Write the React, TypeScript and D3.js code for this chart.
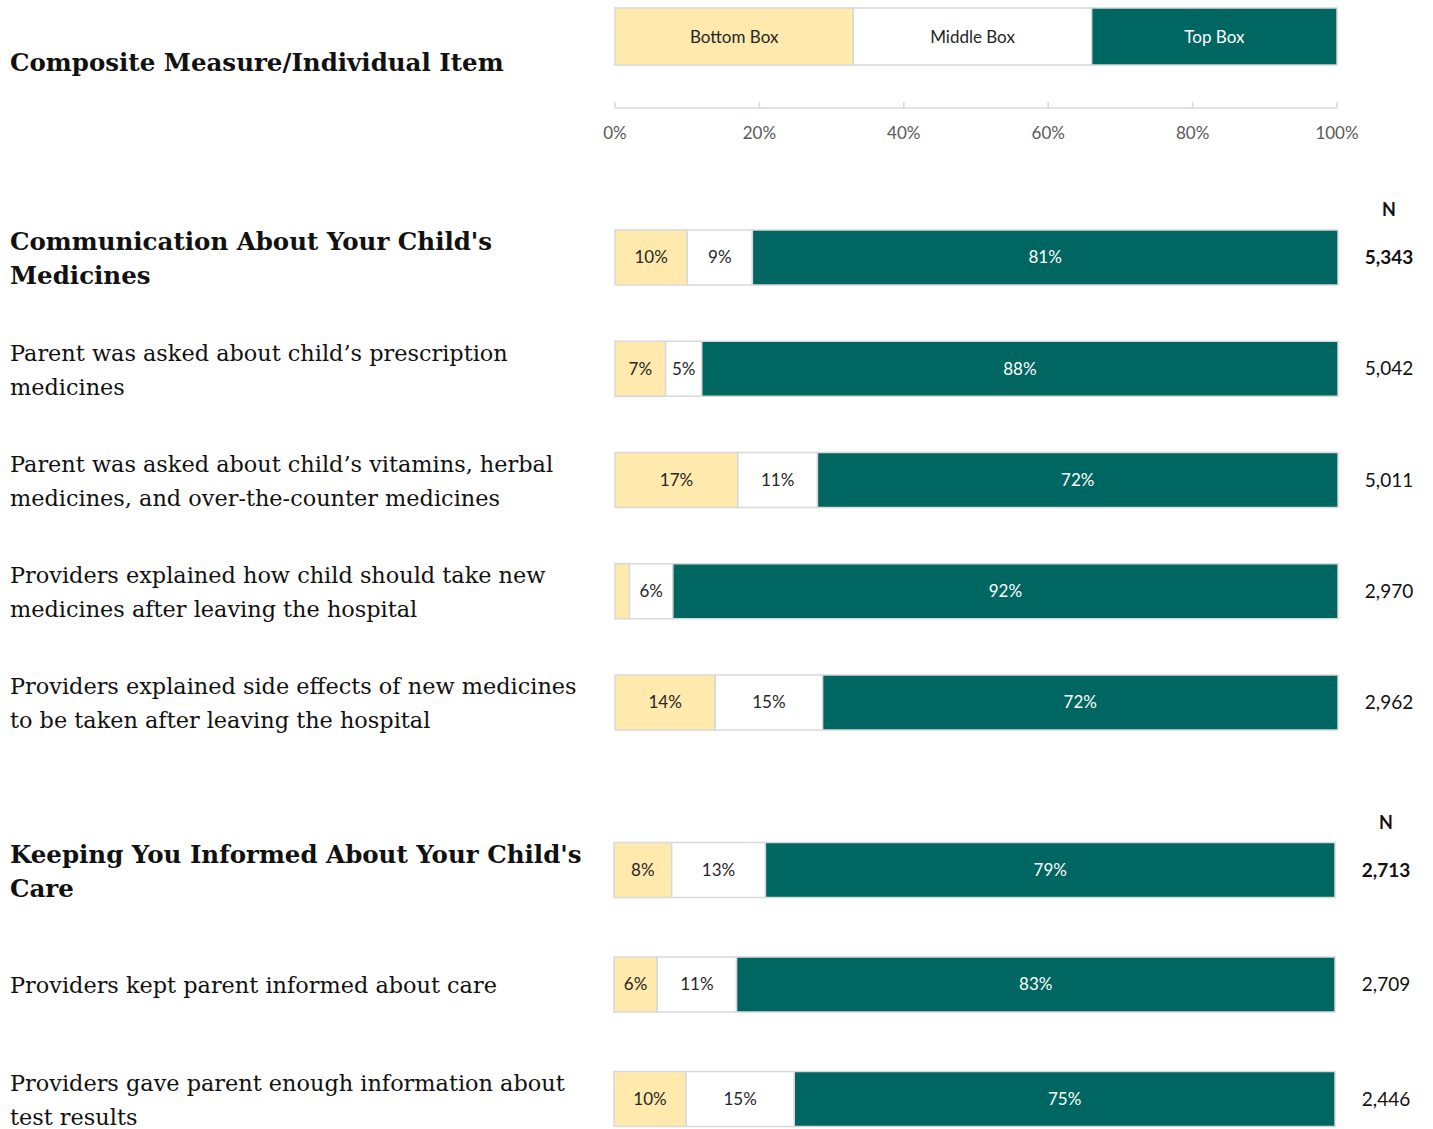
import React from 'react';
import * as d3 from 'd3';

// rows, top to bottom
const labels = [
  ["Communication About Your Child's", 'Medicines'],
  ['Parent was asked about child\u2019s prescription', 'medicines'],
  ['Parent was asked about child\u2019s vitamins, herbal', 'medicines, and over-the-counter medicines'],
  ['Providers explained how child should take new', 'medicines after leaving the hospital'],
  ['Providers explained side effects of new medicines', 'to be taken after leaving the hospital'],
  ["Keeping You Informed About Your Child's", 'Care'],
  ['Providers kept parent informed about care'],
  ['Providers gave parent enough information about', 'test results'],
];
const isComposite = [true, false, false, false, false, true, false, false];
const group = [0, 0, 0, 0, 0, 1, 1, 1];
const bottomBox = [10, 7, 17, 2, 14, 8, 6, 10];
const middleBox = [9, 5, 11, 6, 15, 13, 11, 15];
const topBox = [81, 88, 72, 92, 72, 79, 83, 75];
const nValues = ['5,343', '5,042', '5,011', '2,970', '2,962', '2,713', '2,709', '2,446'];
const seriesNames = ['Bottom Box', 'Middle Box', 'Top Box'];
const ticks = [0, 0.2, 0.4, 0.6, 0.8, 1];

const colors = ['#ffe9ad', '#ffffff', '#006661'];
const textColors = ['#262626', '#262626', '#ffffff'];
const serif = '"DejaVu Serif", Georgia, serif';
const sans = 'Lato, "Open Sans", sans-serif';

const W = 1433;
const H = 1129;

export default function App() {
  const rows = bottomBox.map((b, i) => ({ i, b, m: middleBox[i], t: topBox[i] }));
  const stacked = d3.stack<any>().keys(['b', 'm', 't']).offset(d3.stackOffsetExpand)(rows);

  // two groups, each with its own slight offsets
  const xScales = [
    d3.scaleLinear().domain([0, 1]).range([615, 1338]),
    d3.scaleLinear().domain([0, 1]).range([614, 1335]),
  ];
  const xAxis = d3.scaleLinear().domain([0, 1]).range([615, 1337]);
  const legendX = d3.scaleBand().domain(seriesNames).range([615, 1330]);

  const y0 = d3.scalePoint().domain(d3.range(5).map(String)).range([257.5, 702.5]);
  const y1 = d3.scalePoint().domain(d3.range(5, 8).map(String)).range([870, 1099]);
  const yCenter = (i: number) => (group[i] === 0 ? y0(String(i)) : y1(String(i))) as number;
  const barH = 55;
  const nX = [1389, 1386];

  return (
    <svg width={W} height={H} style={{ position: 'absolute', left: 0, top: 0, background: '#fff' }}>
      <text x={10} y={62} dy="0.35em" fontFamily={serif} fontWeight="bold" fontSize={24.5} fill="#111">
        Composite Measure/Individual Item
      </text>

      {/* legend */}
      {seriesNames.map((s, k) => {
        const lx = legendX(s) as number;
        const lw = k === 2 ? 1337 - lx : legendX.bandwidth();
        return (
          <g key={s}>
            <rect x={lx} y={8} width={lw} height={57}
              fill={colors[k]} stroke="#d9d9d9" strokeWidth={1.5} />
            <text x={lx + lw / 2} y={37} dy="0.35em"
              textAnchor="middle" fontFamily={sans} fontSize={17} fill={textColors[k]}>{s}</text>
          </g>
        );
      })}

      {/* axis */}
      <g>
        <line x1={xAxis(0)} x2={xAxis(1)} y1={108} y2={108} stroke="#d9d9d9" strokeWidth={1.5} />
        {ticks.map((t) => (
          <g key={t}>
            <line x1={xAxis(t)} x2={xAxis(t)} y1={102} y2={108} stroke="#d9d9d9" strokeWidth={1.5} />
            <text x={xAxis(t)} y={133} dy="0.35em" textAnchor="middle" fontFamily={sans}
              fontSize={17} fill="#595959">{d3.format('.0%')(t)}</text>
          </g>
        ))}
      </g>

      {/* N headers */}
      <text x={nX[0]} y={210} dy="0.35em" textAnchor="middle" fontFamily={sans} fontWeight="bold" fontSize={18} fill="#111">N</text>
      <text x={nX[1]} y={823} dy="0.35em" textAnchor="middle" fontFamily={sans} fontWeight="bold" fontSize={18} fill="#111">N</text>

      {rows.map((r) => {
        const cy = yCenter(r.i);
        const x = xScales[group[r.i]];
        const lines = labels[r.i];
        const bold = isComposite[r.i];
        return (
          <g key={r.i}>
            {lines.map((ln, j) => (
              <text key={j} x={10} y={cy + (j - (lines.length - 1) / 2) * 34 + 1} dy="0.35em"
                fontFamily={serif} fontWeight={bold ? 'bold' : 'normal'}
                fontSize={bold ? 24.5 : 22.4} fill="#111">{ln}</text>
            ))}
            {stacked.map((s, k) => {
              const d = s[r.i];
              const val = [r.b, r.m, r.t][k];
              const xa = x(d[0]);
              const xb = x(d[1]);
              return (
                <g key={k}>
                  <rect x={xa} y={cy - barH / 2} width={xb - xa} height={barH}
                    fill={colors[k]} stroke="#d9d9d9" strokeWidth={1.5} />
                  {val >= 3 && (
                    <text x={(xa + xb) / 2} y={cy} dy="0.35em" textAnchor="middle"
                      fontFamily={sans} fontSize={17} fill={textColors[k]}>{val}%</text>
                  )}
                </g>
              );
            })}
            <text x={nX[group[r.i]]} y={cy} dy="0.35em" textAnchor="middle" fontFamily={sans}
              fontWeight={bold ? 'bold' : 'normal'} fontSize={19} fill="#111">{nValues[r.i]}</text>
          </g>
        );
      })}
    </svg>
  );
}
